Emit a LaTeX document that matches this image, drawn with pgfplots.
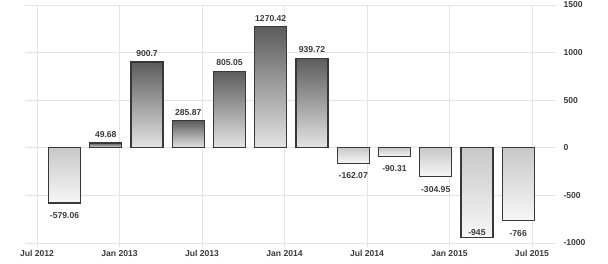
\documentclass[border=0pt]{standalone}
\usepackage{pgfplots}
\pgfplotsset{compat=1.18}
\usepackage{fontspec}
\setmainfont{Liberation Sans}
\definecolor{gridc}{HTML}{E4E4E4}
\definecolor{txt}{HTML}{3A3A3A}
\definecolor{barline}{HTML}{383838}
\definecolor{postop}{HTML}{5C5C5C}
\definecolor{posbot}{HTML}{E4E4E4}
\definecolor{negtop}{HTML}{C8C8C8}
\definecolor{negbot}{HTML}{F7F7F7}

\pgfplotsset{
  basebar/.style={ybar, bar shift=0pt, bar width=2.33, draw=barline, line width=1.2bp,
    nodes near coords, point meta=explicit symbolic},
  posbar/.style={basebar, top color=postop, bottom color=posbot,
    every node near coord/.append style={yshift=1.5bp}},
  negbar/.style={basebar, top color=negtop, bottom color=negbot,
    every node near coord/.append style={yshift=-19.5bp}},
  neginbar/.style={basebar, top color=negtop, bottom color=negbot,
    every node near coord/.append style={yshift=-1.5bp}},
}

\begin{document}
\begin{tikzpicture}
\useasboundingbox (0,0) rectangle (608bp,264bp);
\begin{axis}[
  at={(25bp,21bp)}, anchor=south west,
  scale only axis, width=531bp, height=238bp,
  xmin=-0.875, xmax=37.75, ymin=-1000, ymax=1500,
  xtick={0,6,...,36},
  xticklabels={Jul 2012,Jan 2013,Jul 2013,Jan 2014,Jul 2014,Jan 2015,Jul 2015},
  ytick={-1000,-500,0,500,1000,1500},
  yticklabels={-1000,-500,0,500,1000,1500},
  yticklabel pos=right,
  yticklabel style={anchor=west},
  xtick pos=left,
  grid=major, major grid style={gridc, line width=0.8bp},
  axis line style={draw=none},
  xtick style={gridc, line width=0.8bp}, major tick length=4bp,
  tick align=outside,
  ytick style={draw=none},
  ticklabel style={font=\fontsize{8.6bp}{10bp}\selectfont\bfseries, text=txt},
  every node near coord/.append style={font=\fontsize{8.6bp}{10bp}\selectfont\bfseries, text=txt},
  clip=false,
]
% quarterly balance, x = months since Jul 2012
\addplot[negbar]   coordinates {(2,-579.06) [-579.06]};
\addplot[posbar]   coordinates {(5,49.68) [49.68]};
\addplot[posbar]   coordinates {(8,900.7) [900.7]};
\addplot[posbar]   coordinates {(11,285.87) [285.87]};
\addplot[posbar]   coordinates {(14,805.05) [805.05]};
\addplot[posbar]   coordinates {(17,1270.42) [1270.42]};
\addplot[posbar]   coordinates {(20,939.72) [939.72]};
\addplot[negbar]   coordinates {(23,-162.07) [-162.07]};
\addplot[negbar]   coordinates {(26,-90.31) [-90.31]};
\addplot[negbar]   coordinates {(29,-304.95) [-304.95]};
\addplot[neginbar] coordinates {(32,-945) [-945]};
\addplot[negbar]   coordinates {(35,-766) [-766]};
\end{axis}
\end{tikzpicture}
\end{document}
